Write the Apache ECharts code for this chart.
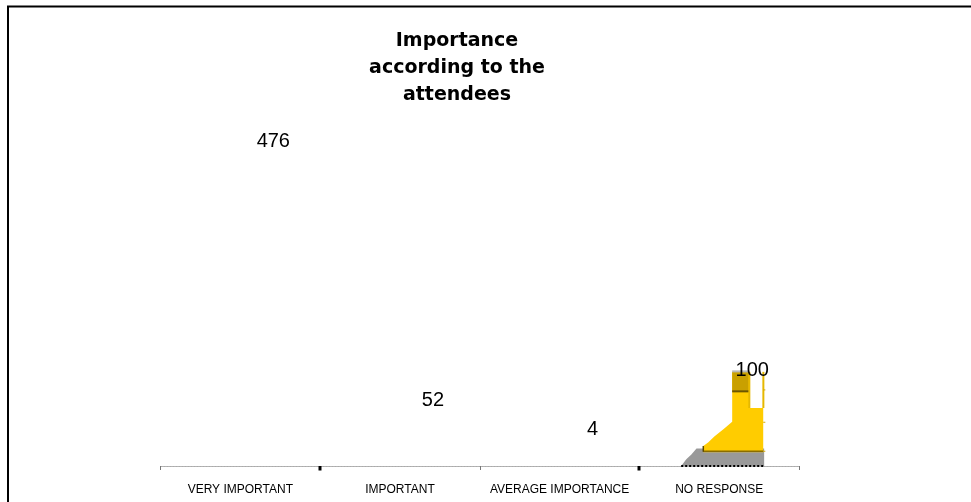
<!DOCTYPE html>
<html>
<head>
<meta charset="utf-8">
<script src="https://cdn.jsdelivr.net/npm/echarts@6/dist/echarts.min.js"></script>
<style>
  html, body { margin: 0; padding: 0; background: #fff; }
  #chart { width: 971px; height: 502px; }
</style>
</head>
<body>
<div id="chart"></div>
<script>
// Responses per importance level
const categories = ['VERY IMPORTANT', 'IMPORTANT', 'AVERAGE IMPORTANCE', 'NO RESPONSE'];
const responses = [476, 52, 4, 100];
const titleText = 'Importance\naccording to the\nattendees';

// 3D depth of the columns (pixels, back face offset)
const DEPTH_X = 36;
const DEPTH_Y = 34;
const FONT = 'Arial, "Liberation Sans", sans-serif';

const chart = echarts.init(document.getElementById('chart'), null, { renderer: 'canvas' });

// Picture-filled column for the last category, the others are transparent
function renderColumn(params, api) {
  const idx = params.dataIndex;
  const value = api.value(1);
  const top = api.coord([idx, value]);
  const base = api.coord([idx, 0]);
  const band = api.size([1, 0])[0];
  const cx = top[0];
  const children = [];

  // heavy tick on the right boundary of every other category
  if (idx % 2 === 0) {
    const bx = Math.round(cx + band / 2);
    children.push({
      type: 'rect',
      shape: { x: bx - 1.5, y: base[1], width: 3, height: 4.5 },
      style: { fill: '#000' }
    });
  }

  if (idx === categories.length - 1) {
    // bounding box of the 3D column (front bottom-left to back top-right)
    const L = cx - 38, R = cx + 47;
    const B = base[1], T = top[1] - DEPTH_Y;
    const W = R - L, H = B - T;
    const px = f => L + f * W;
    const py = f => T + f * H;
    const P = (fx, fy) => [px(fx), py(fy)];

    // grey floor shadow
    children.push({
      type: 'polygon',
      shape: { points: [P(0, 1), P(0.06, 0.93), P(0.12, 0.88), P(0.18, 0.815), P(0.976, 0.815), P(0.976, 1)] },
      style: { fill: '#999999' }
    });
    // black dotted floor edge
    children.push({
      type: 'line',
      shape: { x1: px(0), y1: B, x2: px(0.976), y2: B },
      style: { stroke: '#000', lineWidth: 2, lineDash: [2, 2] }
    });
    // yellow body
    children.push({
      type: 'polygon',
      shape: { points: [P(0.26, 0.855), P(0.26, 0.79), P(0.32, 0.75), P(0.39, 0.69), P(0.5, 0.61), P(0.6, 0.535),
                        P(0.6, 0.01), P(0.8, 0.01), P(0.8, 0.39), P(0.965, 0.39), P(0.965, 0.855)] },
      style: { fill: '#FFCC00' }
    });
    // bottom rim of the body
    children.push({
      type: 'line',
      shape: { x1: px(0.26), y1: py(0.845), x2: px(0.965), y2: py(0.845) },
      style: { stroke: '#8a6d00', lineWidth: 1.5 }
    });
    children.push({
      type: 'line',
      shape: { x1: px(0.26), y1: py(0.79), x2: px(0.26), y2: py(0.85) },
      style: { stroke: '#5a4800', lineWidth: 1.5 }
    });
    // thin posts on the right
    children.push({
      type: 'rect',
      shape: { x: px(0.955), y: py(0.01), width: 2, height: py(0.39) - py(0.01) },
      style: { fill: '#E6B800' }
    });
    children.push({
      type: 'rect',
      shape: { x: px(0.79), y: py(0.01), width: 2, height: py(0.39) - py(0.01) },
      style: { fill: '#E6B800' }
    });
    // dark gold cuff
    children.push({
      type: 'rect',
      shape: { x: px(0.6), y: py(0.01), width: px(0.79) - px(0.6), height: py(0.22) - py(0.01) },
      style: { fill: '#C9A000' }
    });
    children.push({
      type: 'line',
      shape: { x1: px(0.6), y1: py(0.215), x2: px(0.79), y2: py(0.215) },
      style: { stroke: '#6b5500', lineWidth: 2 }
    });
    // grey top edge of the cuff
    children.push({
      type: 'line',
      shape: { x1: px(0.6), y1: py(0.005), x2: px(0.79), y2: py(0.005) },
      style: { stroke: '#b8b8b8', lineWidth: 2 }
    });
    // small marks on the right side
    [0.2, 0.54, 0.845].forEach(f => children.push({
      type: 'line',
      shape: { x1: px(0.965), y1: py(f), x2: px(0.99), y2: py(f) },
      style: { stroke: '#D4A800', lineWidth: 1 }
    }));
  }

  // value label floating above the back face
  children.push({
    type: 'text',
    x: cx + DEPTH_X - 3,
    y: top[1] - DEPTH_Y,
    style: {
      text: String(value),
      fill: '#000',
      font: '20px ' + FONT,
      align: 'center',
      verticalAlign: 'middle'
    }
  });

  return { type: 'group', children: children };
}

const option = {
  backgroundColor: '#fff',
  animation: false,
  title: {
    text: titleText,
    left: 452,
    top: 23,
    textAlign: 'center',
    textStyle: { fontFamily: '"DejaVu Sans", sans-serif', fontSize: 19, fontWeight: 'bold', color: '#000', lineHeight: 27 }
  },
  grid: { left: 160.5, right: 172, top: 160.5, bottom: 36 },
  xAxis: {
    type: 'category',
    data: categories,
    boundaryGap: true,
    axisLine: { show: true, lineStyle: { color: '#aaa', width: 1, type: [2, 1] } },
    axisTick: { show: true, length: 4, lineStyle: { color: '#777', width: 1 } },
    axisLabel: { show: true, interval: 0, hideOverlap: false, margin: 18, fontFamily: FONT, fontSize: 12, color: '#000' }
  },
  yAxis: {
    type: 'value',
    min: 0,
    max: 500,
    show: false,
    splitLine: { show: false }
  },
  graphic: [
    // chart frame
    { type: 'line', shape: { x1: 7, y1: 6.5, x2: 971, y2: 6.5 }, style: { stroke: '#000', lineWidth: 2 } },
    { type: 'line', shape: { x1: 8, y1: 6, x2: 8, y2: 502 }, style: { stroke: '#000', lineWidth: 2 } }
  ],
  series: [
    {
      type: 'custom',
      renderItem: renderColumn,
      data: responses.map((v, i) => [i, v]),
      encode: { x: 0, y: 1 },
      clip: false,
      z: 3
    }
  ]
};

chart.setOption(option);
</script>
</body>
</html>
